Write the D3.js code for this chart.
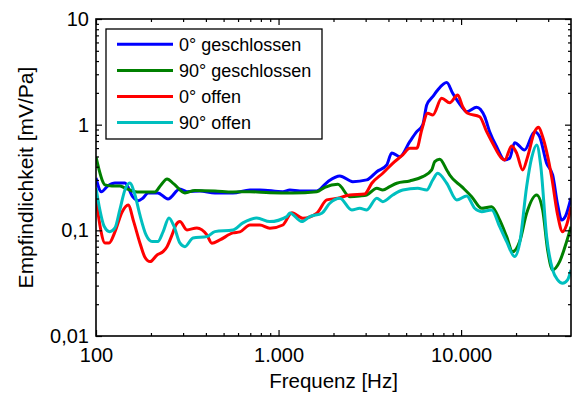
<!DOCTYPE html>
<html>
<head>
<meta charset="utf-8">
<script src="https://cdn.jsdelivr.net/npm/d3@7"></script>
<style>
html,body{margin:0;padding:0;background:#fff;}
svg{display:block;font-family:"Liberation Sans",Arial,sans-serif;}
</style>
</head>
<body>
<script>
// ---- data ----
const seriesNames = ["0° geschlossen", "90° geschlossen", "0° offen", "90° offen"];
const seriesColors = ["#0000ff", "#008000", "#ff0000", "#00bfbf"];

// [frequency Hz, sensitivity mV/Pa]
const blue0Closed = [[100,0.313],[107,0.232],[116,0.263],[127,0.281],[144,0.281],[159,0.208],[170,0.191],[181,0.2025],[193,0.226],[218,0.226],[248,0.198],[288,0.246],[315,0.232],[371,0.236],[448,0.226],[562,0.226],[697,0.241],[790,0.241],[1056,0.232],[1153,0.241],[1308,0.236],[1620,0.236],[1862,0.289],[2166,0.327],[2551,0.289],[3041,0.300],[3452,0.359],[3915,0.416],[4170,0.540],[4613,0.498],[5233,0.690],[5714,0.858],[6163,0.994],[6482,1.536],[6993,1.84],[7447,2.13],[8343,2.50],[8994,1.98],[10076,1.48],[10731,1.327],[12170,1.461],[13466,1.19],[14338,0.858],[15660,0.619],[17323,0.463],[18450,0.481],[19653,0.676],[22284,0.576],[25279,0.858],[26920,0.770],[29412,0.431],[31730,0.334],[33800,0.174],[35538,0.125],[37370,0.137],[40000,0.2025]];

const green90Closed = [[100,0.495],[104,0.373],[108,0.2997],[112,0.269],[122,0.263],[135,0.263],[144,0.2517],[168,0.2307],[210,0.2307],[227,0.269],[245,0.3064],[267,0.275],[307,0.2257],[348,0.2384],[448,0.2358],[562,0.2307],[697,0.2322],[896,0.2272],[1197,0.2257],[1620,0.2322],[1792,0.2556],[2112,0.273],[2456,0.2083],[2786,0.2115],[3041,0.2161],[3452,0.25],[3724,0.241],[4065,0.259],[4441,0.279],[5233,0.2935],[6163,0.322],[6904,0.373],[7171,0.4467],[7637,0.471],[8343,0.373],[8661,0.334],[10076,0.259],[11429,0.2083],[12968,0.1618],[14706,0.1676],[16268,0.1254],[17767,0.0872],[19160,0.0629],[20930,0.0782],[22856,0.145],[25929,0.2161],[27972,0.156],[29785,0.0653],[31730,0.0422],[34654,0.0506],[37844,0.0782],[40000,0.1084]];

const red0Open = [[100,0.2025],[105,0.1124],[112,0.076],[118,0.076],[127,0.0966],[139,0.1493],[150,0.174],[161,0.1203],[174,0.076],[185,0.056],[198,0.0506],[216,0.0585],[233,0.0629],[245,0.0701],[261,0.0905],[274,0.1124],[288,0.1209],[315,0.1009],[357,0.1054],[405,0.0905],[431,0.0755],[477,0.0811],[562,0.0945],[614,0.0966],[697,0.1124],[790,0.1124],[896,0.1047],[1056,0.1124],[1183,0.147],[1358,0.1302],[1620,0.145],[1837,0.194],[2112,0.2012],[2456,0.2161],[2965,0.2209],[3241,0.279],[3724,0.347],[4222,0.431],[4791,0.517],[5233,0.598],[5714,0.598],[6084,0.891],[6564,1.282],[6993,1.235],[7831,1.777],[8661,1.615],[9581,1.91],[10205,1.48],[10866,1.282],[12645,1.19],[13804,0.858],[14892,0.667],[16681,0.481],[17323,0.463],[18923,0.629],[20155,0.537],[21737,0.373],[23146,0.498],[25279,0.858],[26590,0.945],[27972,0.77],[31330,0.322],[33800,0.1398],[35974,0.0972],[37844,0.1124],[40000,0.1665]];

const cyan90Open = [[100,0.2517],[105,0.156],[110.6,0.110],[119,0.0972],[127,0.1054],[135,0.156],[144,0.241],[153,0.2808],[163.5,0.2161],[174,0.1398],[188,0.0905],[203,0.0782],[218,0.0782],[233,0.0966],[251,0.131],[267,0.110],[288,0.076],[307,0.0701],[340,0.0848],[405,0.0872],[448,0.0972],[562,0.1009],[638,0.1175],[760,0.131],[896,0.1209],[1110,0.1348],[1153,0.146],[1342,0.1209],[1483,0.1348],[1726,0.145],[1909,0.1805],[2166,0.2012],[2519,0.156],[2786,0.1618],[3041,0.156],[3452,0.2012],[3724,0.1869],[4222,0.2161],[4791,0.241],[5785,0.25],[6482,0.241],[6993,0.2997],[7447,0.347],[8343,0.279],[9462,0.1939],[10731,0.2115],[11869,0.1618],[12968,0.1503],[14706,0.156],[16268,0.1084],[17767,0.0782],[19653,0.0564],[20930,0.0755],[22856,0.259],[24340,0.484],[25929,0.643],[27280,0.4157],[29412,0.0872],[31730,0.0422],[33800,0.034],[35974,0.0316],[38320,0.034],[40000,0.0422]];

const seriesData = [blue0Closed, green90Closed, red0Open, cyan90Open];

const xMajorTicks = [100, 1000, 10000];
const xMajorLabels = ["100", "1.000", "10.000"];
const xMinorTicks = [200,300,400,500,600,700,800,900,2000,3000,4000,5000,6000,7000,8000,9000,20000,30000];
const yMajorTicks = [0.01, 0.1, 1, 10];
const yMajorLabels = ["0,01", "0,1", "1", "10"];
const yMinorTicks = [0.02,0.03,0.04,0.05,0.06,0.07,0.08,0.09,0.2,0.3,0.4,0.5,0.6,0.7,0.8,0.9,2,3,4,5,6,7,8,9];
const xTitle = "Frequenz [Hz]";
const yTitle = "Empfindlichkeit [mV/Pa]";

// ---- layout ----
const W = 572, H = 393;
const L = 96, R = 571, T = 19, B = 336;

const svg = d3.select("body").append("svg").attr("width", W).attr("height", H);

const x = d3.scaleLog().domain([100, 40000]).range([L, R]);
const y = d3.scaleLog().domain([0.01, 10]).range([B, T]);

svg.append("defs").append("clipPath").attr("id", "clip")
  .append("rect").attr("x", L).attr("y", T).attr("width", R - L).attr("height", B - T);

// curves
const line = d3.line().x(d => x(d[0])).y(d => y(d[1])).curve(d3.curveMonotoneX);
const plot = svg.append("g").attr("clip-path", "url(#clip)");
seriesData.forEach((s, i) => {
  plot.append("path").datum(s)
    .attr("d", line)
    .attr("fill", "none")
    .attr("stroke", seriesColors[i])
    .attr("stroke-width", 3)
    .attr("stroke-linejoin", "round");
});

// axes
function styleAxis(g) {
  g.select(".domain").remove();
  g.selectAll(".tick line").attr("stroke", "#000").attr("stroke-width", 1.2);
  g.selectAll(".tick text").attr("fill", "#000").style("font-size", "20px")
    .style("font-family", '"Liberation Sans",Arial,sans-serif');
}
const bottomMajor = svg.append("g").attr("transform", `translate(0,${B})`)
  .call(d3.axisBottom(x).tickValues(xMajorTicks).tickFormat((d, i) => xMajorLabels[i]).tickSize(-6).tickPadding(12));
styleAxis(bottomMajor);
const bottomMinor = svg.append("g").attr("transform", `translate(0,${B})`)
  .call(d3.axisBottom(x).tickValues(xMinorTicks).tickFormat("").tickSize(-3));
styleAxis(bottomMinor);
const topMajor = svg.append("g").attr("transform", `translate(0,${T})`)
  .call(d3.axisTop(x).tickValues(xMajorTicks).tickFormat("").tickSize(-6));
styleAxis(topMajor);
const topMinor = svg.append("g").attr("transform", `translate(0,${T})`)
  .call(d3.axisTop(x).tickValues(xMinorTicks).tickFormat("").tickSize(-3));
styleAxis(topMinor);
const leftMajor = svg.append("g").attr("transform", `translate(${L},0)`)
  .call(d3.axisLeft(y).tickValues(yMajorTicks).tickFormat((d, i) => yMajorLabels[i]).tickSize(-6).tickPadding(7));
styleAxis(leftMajor);
const leftMinor = svg.append("g").attr("transform", `translate(${L},0)`)
  .call(d3.axisLeft(y).tickValues(yMinorTicks).tickFormat("").tickSize(-3));
styleAxis(leftMinor);
const rightMajor = svg.append("g").attr("transform", `translate(${R},0)`)
  .call(d3.axisRight(y).tickValues(yMajorTicks).tickFormat("").tickSize(-6));
styleAxis(rightMajor);
const rightMinor = svg.append("g").attr("transform", `translate(${R},0)`)
  .call(d3.axisRight(y).tickValues(yMinorTicks).tickFormat("").tickSize(-3));
styleAxis(rightMinor);

// frame
svg.append("rect").attr("x", L).attr("y", T).attr("width", R - L).attr("height", B - T)
  .attr("fill", "none").attr("stroke", "#000").attr("stroke-width", 1.6);

// titles
svg.append("text").attr("x", (L + R) / 2).attr("y", 387.5).attr("text-anchor", "middle")
  .style("font-size", "20.5px").attr("fill", "#000").text(xTitle);
svg.append("text").attr("transform", `translate(33,${(T + B) / 2}) rotate(-90)`)
  .attr("text-anchor", "middle").style("font-size", "21px").attr("fill", "#000").text(yTitle);

// legend
const lg = svg.append("g");
lg.append("rect").attr("x", 106).attr("y", 29).attr("width", 216).attr("height", 110)
  .attr("fill", "#fff").attr("stroke", "#000").attr("stroke-width", 1.3);
seriesNames.forEach((n, i) => {
  const yy = 44.3 + i * 26.1;
  lg.append("line").attr("x1", 117).attr("x2", 173).attr("y1", yy).attr("y2", yy)
    .attr("stroke", seriesColors[i]).attr("stroke-width", 3);
  lg.append("text").attr("x", 179).attr("y", yy + 6.6).style("font-size", "18px")
    .attr("fill", "#000").text(n);
});
</script>
</body>
</html>
